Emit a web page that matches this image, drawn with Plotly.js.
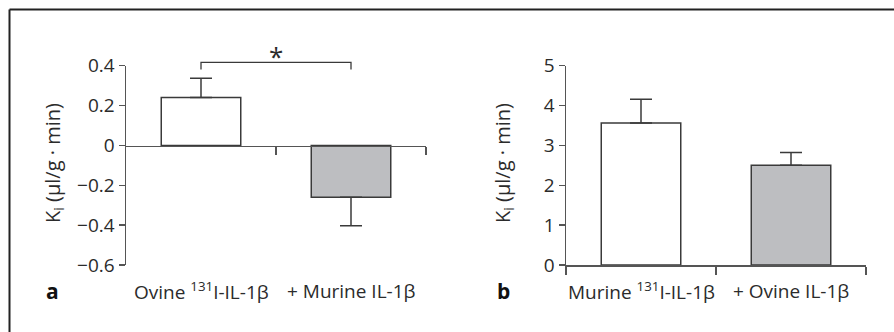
<!DOCTYPE html>
<html>
<head>
<meta charset="utf-8">
<script src="https://cdn.plot.ly/plotly-3.0.1.min.js"></script>
<style>html,body{margin:0;padding:0;background:#fff;}#chart{width:894px;height:332px;}</style>
</head>
<body>
<div id="chart"></div>
<script>
// Panel a data
const catsA = ["Ovine <sup>131</sup>I-IL-1β", "+ Murine IL-1β"];
const valsA = [0.24, -0.26];
const errA = [0.097, 0.143];
const colorsA = ["#ffffff", "#bdbec1"];
const yTicksA = [0.4, 0.2, 0, -0.2, -0.4, -0.6];
const yTickTextA = ["0.4", "0.2", "0", "\u22120.2", "\u22120.4", "\u22120.6"];

// Panel b data
const catsB = ["Murine <sup>131</sup>I-IL-1β", "+ Ovine IL-1β"];
const valsB = [3.56, 2.50];
const errB = [0.60, 0.32];
const colorsB = ["#ffffff", "#bdbec1"];
const yTicksB = [0, 1, 2, 3, 4, 5];

const yTitle = "K<sub>i</sub> (µl/g · min)";
const FONT = "Open Sans, Noto Sans, sans-serif";
const TXT = "#2b2b2b";
const LINE = "#3a3a3a";
const FS = 19;

const W = 894, H = 332;
const px = v => v / W;
const py = v => 1 - v / H;

const pos = [0, 1];

const traces = [
  {
    type: "bar", x: pos, y: valsA, xaxis: "x", yaxis: "y", width: 0.53,
    marker: {color: colorsA, line: {color: LINE, width: 1.5}},
    error_y: {type: "data", array: [errA[0], 0], arrayminus: [0, errA[1]], symmetric: false, visible: true, color: LINE, thickness: 1.5, width: 11},
    hoverinfo: "skip"
  },
  {
    type: "bar", x: pos, y: valsB, xaxis: "x2", yaxis: "y2", width: 0.53,
    marker: {color: colorsB, line: {color: LINE, width: 1.5}},
    error_y: {type: "data", array: errB, arrayminus: errB.map(() => 0), symmetric: false, visible: true, color: LINE, thickness: 1.5, width: 11},
    hoverinfo: "skip"
  }
];

const yTop = py(65.7), yBot = py(265);
const zeroA = py(145.7);

const axCommon = {
  showgrid: false, zeroline: false, showline: true, linecolor: "#555", linewidth: 1.5,
  ticks: "outside", tickcolor: "#555", tickwidth: 1.5,
  tickfont: {family: FONT, size: FS, color: TXT}, fixedrange: true
};

const layout = {
  width: W, height: H,
  margin: {l: 0, r: 0, t: 0, b: 0},
  paper_bgcolor: "#fff", plot_bgcolor: "rgba(0,0,0,0)",
  showlegend: false,
  bargap: 0,
  font: {family: FONT, color: TXT},
  xaxis: Object.assign({}, axCommon, {
    domain: [px(126), px(426)], range: [-0.5, 1.5],
    anchor: "free", position: zeroA,
    tickvals: [0.5, 1.5], showticklabels: false, ticklen: 8
  }),
  yaxis: Object.assign({}, axCommon, {
    domain: [yBot, yTop], range: [-0.6, 0.4],
    anchor: "x", tickvals: yTicksA, ticktext: yTickTextA, ticklen: 6
  }),
  xaxis2: Object.assign({}, axCommon, {
    domain: [px(566), px(866)], range: [-0.5, 1.5],
    anchor: "y2",
    tickvals: [-0.5, 0.5, 1.5], showticklabels: false, ticklen: 8
  }),
  yaxis2: Object.assign({}, axCommon, {
    domain: [yBot, yTop], range: [0, 5],
    anchor: "x2", tickvals: yTicksB, ticklen: 6
  }),
  shapes: [
    // frame
    {type: "line", xref: "paper", yref: "paper", x0: px(9.5), x1: px(9.5), y0: 0, y1: py(9.5), line: {color: "#222", width: 2}},
    {type: "line", xref: "paper", yref: "paper", x0: px(9.5), x1: 1, y0: py(9.5), y1: py(9.5), line: {color: "#222", width: 2}},
    // significance bracket
    {type: "path", xref: "x", yref: "paper",
      path: `M 0,${py(69.5)} L 0,${py(62.3)} L 1,${py(62.3)} L 1,${py(69.5)}`,
      line: {color: LINE, width: 1.3}}
  ],
  annotations: [
    ...catsA.map((c, i) => ({x: pos[i], y: py(291), xref: "x", yref: "paper", text: c, showarrow: false,
      font: {family: FONT, size: FS, color: TXT}, xanchor: "center", yanchor: "middle"})),
    ...catsB.map((c, i) => ({x: pos[i], y: py(291), xref: "x2", yref: "paper", text: c, showarrow: false,
      font: {family: FONT, size: FS, color: TXT}, xanchor: "center", yanchor: "middle"})),
    {x: px(53), y: py(163), xref: "paper", yref: "paper", text: yTitle, textangle: -90, showarrow: false,
      font: {family: FONT, size: 20, color: TXT}, xanchor: "center", yanchor: "middle"},
    {x: px(503), y: py(163), xref: "paper", yref: "paper", text: yTitle, textangle: -90, showarrow: false,
      font: {family: FONT, size: 20, color: TXT}, xanchor: "center", yanchor: "middle"},
    {x: px(52), y: py(291), xref: "paper", yref: "paper", text: "<b>a</b>", showarrow: false,
      font: {family: FONT, size: 21, color: "#111"}, xanchor: "center", yanchor: "middle"},
    {x: px(504), y: py(291), xref: "paper", yref: "paper", text: "<b>b</b>", showarrow: false,
      font: {family: FONT, size: 21, color: "#111"}, xanchor: "center", yanchor: "middle"},
    {x: 0.5, y: py(56), xref: "x", yref: "paper", text: "*", showarrow: false,
      font: {family: FONT, size: 26, color: TXT}, xanchor: "center", yanchor: "middle"}
  ]
};

Plotly.newPlot("chart", traces, layout, {staticPlot: true, displayModeBar: false});
</script>
</body>
</html>
